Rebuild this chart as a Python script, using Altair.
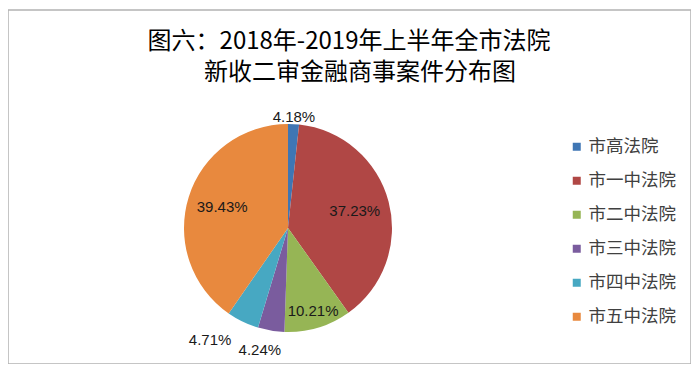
import altair as alt
import pandas as pd

# Data
courts = ["市高法院", "市一中法院", "市二中法院", "市三中法院", "市四中法院", "市五中法院"]
# slice sizes as drawn in the picture (percent of the pie)
shares = [1.7, 38.4, 10.4, 4.1, 5.0, 40.3]
# data labels as printed in the picture
labels = ["4.18%", "37.23%", "10.21%", "4.24%", "4.71%", "39.43%"]
colors = ["#3F76B4", "#B04745", "#96B555", "#7A5C9E", "#47A8C2", "#E8893E"]

title_line1 = "图六：2018年-2019年上半年全市法院"
title_line2 = "新收二审金融商事案件分布图"

df = pd.DataFrame({
    "court": courts,
    "share": shares,
    "label": labels,
    "idx": list(range(len(courts))),
})

CX, CY, R = 280, 218, 104
CJK = "Noto Sans CJK SC"

base = alt.Chart(df)

pie = base.mark_arc(outerRadius=R).encode(
    theta=alt.Theta("share:Q", stack=True),
    color=alt.Color(
        "court:N",
        scale=alt.Scale(domain=courts, range=colors),
        sort=courts,
        legend=alt.Legend(
            title=None,
            orient="none",
            legendX=560,
            legendY=128,
            direction="vertical",
            symbolType="square",
            symbolSize=64,
            symbolStrokeWidth=0,
            labelFontSize=17.5,
            labelFont=CJK,
            labelColor="#404040",
            labelOffset=3,
            rowPadding=15,
            padding=0,
        ),
    ),
    order=alt.Order("idx:Q"),
    x=alt.value(CX),
    y=alt.value(CY),
)

label_base = base.transform_window(
    cum="sum(share)", sort=[alt.SortField("idx")]
).transform_joinaggregate(
    total="sum(share)"
).transform_calculate(
    mid="(datum.cum - datum.share / 2) / datum.total * 2 * PI",
).transform_calculate(
    grp="datum.share >= 8 || datum.mid < PI ? 'main' : (datum.mid > 1.1 * PI ? 'far' : 'near')",
    lr="datum.share > 20 ? 69 : (datum.share > 8 ? 87 : (datum.mid > PI ? 124 : 111))",
)

enc = dict(
    theta=alt.Theta("mid:Q", scale=None, stack=None),
    radius=alt.Radius("lr:Q", scale=None),
    text="label:N",
    x=alt.value(CX),
    y=alt.value(CY),
)


def label_layer(group, dx):
    return label_base.transform_filter(f"datum.grp == '{group}'").mark_text(
        fontSize=15, font="Liberation Sans", color="#1a1a1a", dx=dx
    ).encode(**enc)


text_main = label_layer("main", 0)
text_near = label_layer("near", -8)
text_far = label_layer("far", -24)

t1 = alt.Chart(pd.DataFrame({"t": [title_line1]})).mark_text(
    fontSize=24, font=CJK, color="#000000", baseline="middle", align="center"
).encode(text="t:N", x=alt.value(341), y=alt.value(32))

t2 = alt.Chart(pd.DataFrame({"t": [title_line2]})).mark_text(
    fontSize=24, font=CJK, color="#000000", baseline="middle", align="center"
).encode(text="t:N", x=alt.value(352), y=alt.value(63))

chart = alt.layer(pie, text_main, text_near, text_far, t1, t2).properties(
    width=683,
    height=354,
    padding={"left": 0, "top": 2, "right": 0, "bottom": 0},
    autosize=alt.AutoSizeParams(type="none"),
    background="white",
).configure_view(
    stroke="#b3b3b3",
    strokeWidth=1.5,
)

chart.save("out.html", embed_options={"renderer": "svg", "actions": False})
